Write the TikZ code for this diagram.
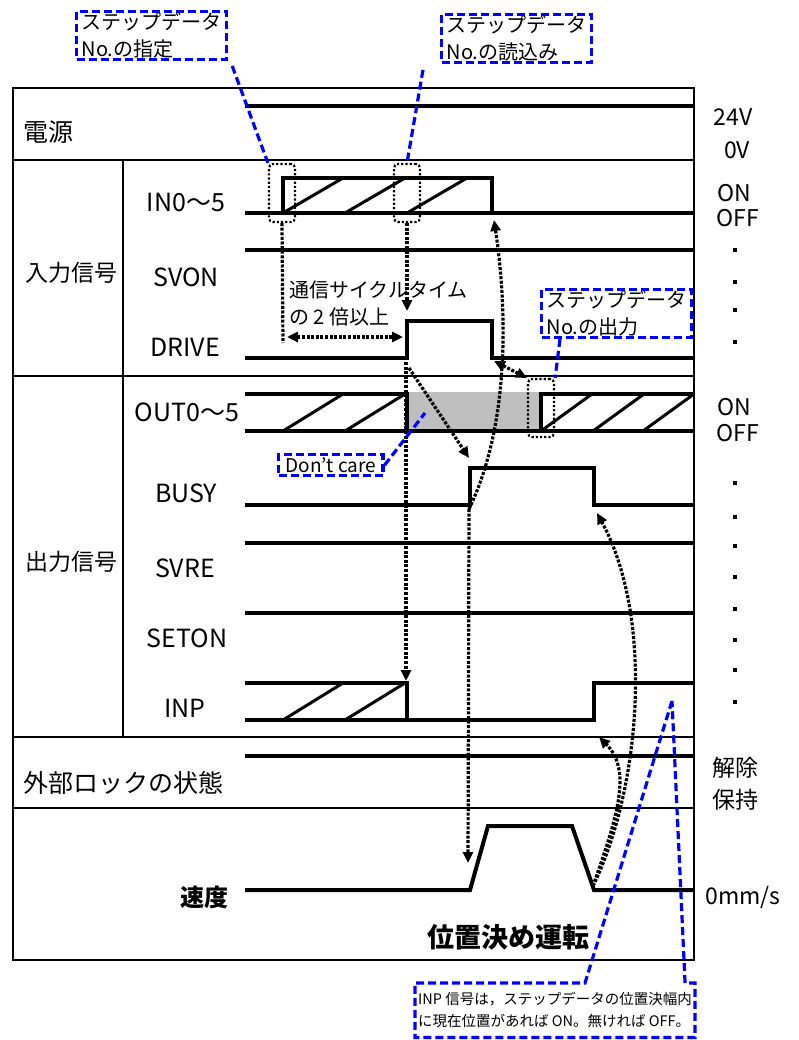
\documentclass[tikz,border=0pt]{standalone}
\usepackage{fontspec}
\setmainfont{Noto Sans CJK JP}
\usetikzlibrary{arrows.meta,positioning,calc}

\begin{document}
\begin{tikzpicture}[
  x=1pt, y=-1pt,
  font=\fontsize{23}{27}\selectfont,
  frame/.style={line width=2.6},
  rule/.style={line width=1.8},
  sig/.style={line width=4, line join=miter},
  hatch/.style={line width=3},
  dotmark/.style={fill, minimum size=4, inner sep=0pt},
  edgebox/.style={draw, dotted, rounded corners=4, line width=2.2,
                  minimum width=26, minimum height=58, inner sep=0pt},
  lead/.style={draw=blue, line width=3.2, dash pattern=on 8 off 4},
  callout/.style={lead, align=left, inner xsep=5, inner ysep=1,
                  font=\fontsize{20}{27}\selectfont},
  flow/.style={line width=3.2, dash pattern=on 3 off 1.6},
  arr/.style={flow, -{Triangle[length=11,width=10]}},
  darr/.style={flow, {Triangle[length=11,width=10]}-{Triangle[length=11,width=10]}},
  sname/.style={font=\fontsize{25}{27}\selectfont},
  level/.style={font=\fontsize{23}{27}\selectfont}
]
\useasboundingbox (0,0) rectangle (799,1040);

% ---------- frame ----------
\draw[frame] (13,88) rectangle (694,960);
\draw[frame] (13,160) -- (694,160);
\draw[rule] (13,376) -- (694,376);
\draw[rule] (13,737) -- (694,737);
\draw[rule] (13,808) -- (694,808);
\draw[rule] (123,160) -- (123,737);

% ---------- row labels ----------
\node[anchor=west, font=\fontsize{25}{27}\selectfont] (pwr) at (20,132) {電源};
\node (ingrp) at (71,273) {入力信号};
\node (outgrp) at (71,562) {出力信号};
\node[anchor=west, font=\fontsize{25}{27}\selectfont] (lock) at (20,783) {外部ロックの状態};
\node[sname] (in05) at (186,203) {IN0～5};
\node[sname] (svon) at (186,277) {SVON};
\node[sname] (drive) at (185,347) {DRIVE};
\node[sname] (out05) at (187,412) {OUT0～5};
\node[sname] (busy) at (186,493) {BUSY};
\node[sname] (svre) at (185,568) {SVRE};
\node[sname] (seton) at (187,638) {SETON};
\node[sname] (inp) at (185,708) {INP};
\node[font=\fontsize{24}{27}\selectfont\bfseries] (speed) at (204,897) {速度};
\node[font=\fontsize{27}{30}\selectfont\bfseries] (posrun) at (508,937) {位置決め運転};

% ---------- level labels ----------
\node[level] (v24) at (733,117) {24V};
\node[level] (v0) at (737,150) {0V};
\node[level] (inon) at (734,193) {ON};
\node[level] (inoff) at (738,218) {OFF};
\node[level] (outon) at (734,407) {ON};
\node[level] (outoff) at (738,433) {OFF};
\node[level] (unlock) at (735,768) {解除};
\node[level] (hold) at (735,800) {保持};
\node[level] (zero) at (743,897) {0mm/s};
\foreach \y in {250,282,310,342,483,517,546,577,609,640,670,702}
  \node[dotmark] at (735,\y) {};

% ---------- waveforms ----------
\draw[sig] (245,106) -- (694,106);
% IN0~5
\draw[sig] (245,213) -- (694,213);
\draw[sig] (283,213) -- (283,178) -- (492,178) -- (492,213);
\foreach \x in {283,345,407} \draw[hatch] (\x,213) -- (\x+60,178);
% SVON
\draw[sig] (245,250) -- (694,250);
% DRIVE
\draw[sig] (245,358) -- (407,358) -- (407,321) -- (492,321) -- (492,358) -- (694,358);
% OUT0~5
\fill[gray!50] (409,392) rectangle (541,430);
\draw[sig] (245,394) -- (407,394) -- (407,431);
\draw[sig] (245,431) -- (694,431);
\draw[sig] (541,431) -- (541,394) -- (694,394);
\foreach \x in {283,345} \draw[hatch] (\x,431) -- (\x+60,394);
\foreach \x in {541,593,643} \draw[hatch] (\x,431) -- (\x+51,394);
% BUSY, SVRE, SETON
\draw[sig] (245,505) -- (470,505) -- (470,468) -- (594,468) -- (594,505) -- (694,505);
\draw[sig] (245,543) -- (694,543);
\draw[sig] (245,613) -- (694,613);
% INP
\draw[sig] (245,683) -- (407,683) -- (407,720);
\draw[sig] (245,720) -- (594,720) -- (594,683) -- (694,683);
\foreach \x in {283,345} \draw[hatch] (\x,720) -- (\x+60,683);
% lock, speed
\draw[sig] (245,756) -- (694,756);
\draw[sig] (245,890) -- (470,890) -- (488,826) -- (572,826) -- (594,890) -- (694,890);

% ---------- timing points ----------
\node[edgebox] (inset) at (282,193) {};
\node[edgebox] (inread) at (407,193) {};
\node[edgebox] (outset) at (541,408) {};
\coordinate (cycA) at (283,343);
\coordinate (cycL) at (287,337);
\coordinate (cycR) at (403,337);
\coordinate (driveHi) at (407,311);
\coordinate (driveUp) at (406,362);
\coordinate (driveDn) at (494,361);
\coordinate (inpDn) at (406,681);
\coordinate (busyUp) at (469,458);
\coordinate (busyUpLo) at (469,509);
\coordinate (busyDn) at (597,513);
\coordinate (inDn) at (494,220);
\coordinate (spdUp) at (468,863);
\coordinate (spdDn) at (593,886);
\coordinate (inpUp) at (599,737);
\coordinate (grayPt) at (425,413);
\coordinate (inpPt) at (672,701);

% ---------- connectors ----------
\draw[flow] (inset.south) -- (cycA);
\draw[darr] (cycL) -- (cycR);
\node[anchor=west, align=left, inner sep=0pt, font=\fontsize{20}{27}\selectfont]
  (cyc) at (289,303) {通信サイクルタイム\\の 2 倍以上};
\draw[arr] (inread.south) -- (driveHi);
\draw[arr] (driveUp) -- (inpDn);
\draw[arr] ($(driveUp)+(3,6)$) -- (busyUp);
\draw[arr] (busyUpLo) -- (spdUp);
\draw[arr] (busyUpLo) .. controls (512,420) and (506,300) .. (inDn);
\draw[darr] (driveDn) -- (outset.north west);
\draw[arr] (spdDn) .. controls (640,790) and (655,620) .. (busyDn);
\draw[arr] (spdDn) .. controls (618,815) and (632,770) .. (inpUp);

% ---------- callouts ----------
\node[callout, anchor=north west] (stepset) at (75,10) {ステップデータ\\No.の指定};
\draw[lead] ($(stepset.south east)+(4,5)$) -- (inset.north west);
\node[callout, anchor=north west] (stepread) at (440,13) {ステップデータ\\No.の読込み};
\draw[lead] ($(stepread.south west)+(-17,6)$) -- (inread.north);
\node[callout, anchor=north west] (stepout) at (540,288) {ステップデータ\\No.の出力};
\draw[lead] ($(stepout.south west)+(20,0)$) -- (outset.north east);
\node[callout, anchor=north west, inner ysep=3, inner xsep=7, font=\fontsize{19}{22}\selectfont]
  (dontcare) at (277,453) {Don’t care};
\draw[lead] (dontcare.east) -- (grayPt);
\node[anchor=north west, align=left, inner xsep=3, inner ysep=0, minimum width=278,
      minimum height=54, font=\fontsize{14.5}{22}\selectfont]
  (inpnote) at (415,983) {INP 信号は，ステップデータの位置決幅内\\に現在位置があれば ON。無ければ OFF。};
\draw[lead] (inpPt) -- ($(inpnote.north west)+(170,0)$) -- (inpnote.north west)
  -- (inpnote.south west) -- (inpnote.south east) -- (inpnote.north east)
  -- ($(inpnote.north east)+(-10,0)$) -- cycle;

\end{tikzpicture}
\end{document}
